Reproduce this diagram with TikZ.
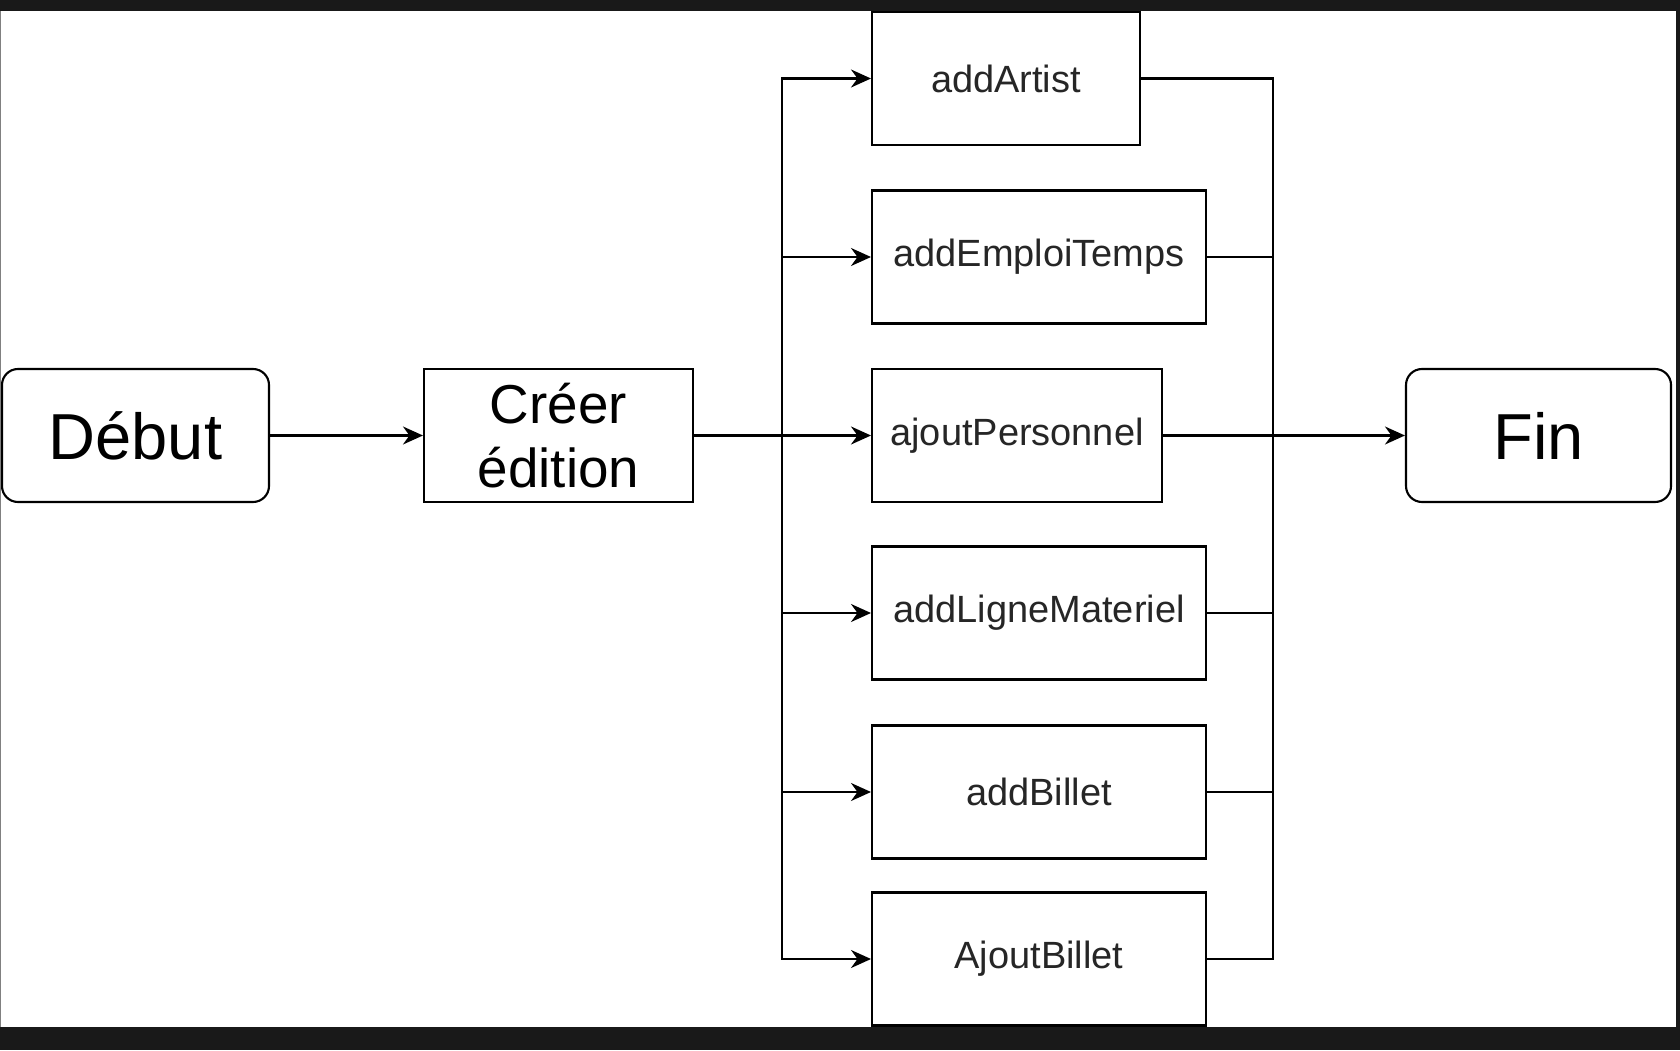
\documentclass[tikz,border=0pt]{standalone}
\usepackage{fontspec}
\setmainfont{Liberation Sans}
\usetikzlibrary{arrows.meta}

\tikzset{
  etape/.style={draw,line width=0.6pt,inner sep=0pt,minimum height=1.33cm,font=\fontsize{10.8}{13}\selectfont,text=black!85},
  borne/.style={draw,line width=0.6pt,rounded corners=0.16cm,inner sep=0pt,minimum width=2.67cm,minimum height=1.33cm,font=\fontsize{18.5}{22}\selectfont},
  fleche/.style={-{Stealth[length=2mm,width=1.8mm]},line width=0.6pt},
}

\begin{document}
\begin{tikzpicture}[line width=0.6pt]
\fill[white] (0,0) rectangle (16.8,10.5);
\useasboundingbox (0,0) rectangle (16.8,10.5);
\node[borne] (debut) at (1.355,6.145) {Début};
\node[etape,minimum width=2.69cm,font=\fontsize{15.6}{18.2}\selectfont,align=center,text=black] (creer) at (5.585,6.145) {Créer\\édition};
\node[borne,minimum width=2.65cm] (fin) at (15.385,6.145) {Fin};
% colonne des methodes
\node[etape,anchor=west,minimum width=2.68cm] (artist) at (8.71,9.715) {addArtist};
\node[etape,anchor=west,minimum width=3.34cm] (emploi) at (8.71,7.93) {addEmploiTemps};
\node[etape,anchor=west,minimum width=2.90cm] (perso) at (8.71,6.145) {ajoutPersonnel};
\node[etape,anchor=west,minimum width=3.34cm] (materiel) at (8.71,4.37) {addLigneMateriel};
\node[etape,anchor=west,minimum width=3.34cm] (billet) at (8.71,2.58) {addBillet};
\node[etape,anchor=west,minimum width=3.34cm] (ajoutbillet) at (8.71,0.91) {AjoutBillet};

\coordinate (split) at (7.82,6.145);
\coordinate (join) at (12.73,6.145);
\draw[fleche] (debut) -- (creer);
\draw[fleche] (creer) -- (perso);
\draw[fleche] (perso) -- (fin);
\foreach \n in {artist,emploi,materiel,billet,ajoutbillet} {
  \draw[fleche] (split) |- (\n.west);
  \draw (\n.east) -| (join);
}
% bords de la capture
\fill[black!90] (0,10.39) rectangle (16.8,10.5);
\fill[black!90] (0,0) rectangle (16.8,0.23);
\fill[black!90] (16.76,0) rectangle (16.8,10.5);
\draw[gray,line width=0.3pt] (0.005,0.23) -- (0.005,10.39);
\end{tikzpicture}
\end{document}
